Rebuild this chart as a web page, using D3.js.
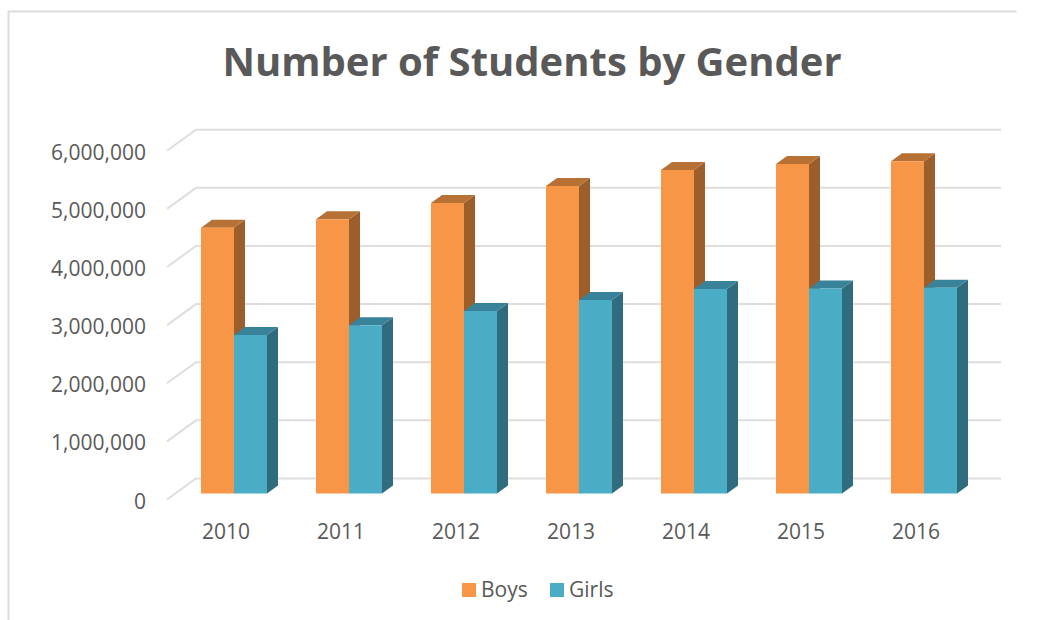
<!DOCTYPE html>
<html>
<head>
<meta charset="utf-8">
<script src="https://cdn.jsdelivr.net/npm/d3@7"></script>
<style>
  html, body { margin: 0; padding: 0; background: #fff; }
  svg { display: block; }
  text { font-family: "Open Sans", sans-serif; fill: #595959; }
</style>
</head>
<body>
<svg id="chart" width="1045" height="620"></svg>
<script>
var years = ['2010', '2011', '2012', '2013', '2014', '2015', '2016'];
var seriesNames = ['Boys', 'Girls'];
var boys = [4572000, 4717000, 4997000, 5290000, 5565000, 5668000, 5715000];
var girls = [2727000, 2893000, 3139000, 3329000, 3518000, 3527000, 3540000];
var yTicks = [0, 1000000, 2000000, 3000000, 4000000, 5000000, 6000000];

var svg = d3.select('#chart');
var depthX = 11, depthY = 8;                     // oblique shift of a bar's back face
var wallX = 29, wallY = 21;                      // oblique shift from the floor front to the wall

var colors = {
  Boys:  { front: '#f79646', top: '#b87135', side: '#9c5f2c' },
  Girls: { front: '#4bacc6', top: '#38829a', side: '#2f6d7e' }
};

// frame
svg.append('path')
  .attr('d', 'M8.5,620V11.5H1016.5')
  .attr('fill', 'none').attr('stroke', '#dcdcdc').attr('stroke-width', 2);

// scales, y is at the bars' front face
var y = d3.scaleLinear().domain([0, 6000000]).range([493.5, 144.7]);
var x = d3.scaleBand().domain(years).range([176.5, 981.5]);
var inner = d3.scaleBand().domain(seriesNames).range([0, 66]);
var barLeft = function(yr) { return x(yr) + (x.bandwidth() - inner.range()[1]) / 2 };

// gridlines with their floor-side stub
var gy = function(v) { return y(v) + 6 };
svg.append('g').selectAll('path').data(yTicks).join('path')
  .attr('d', function(v) {
    return 'M167,' + gy(v) + 'L' + (167 + wallX) + ',' + (gy(v) - wallY) + 'H1001';
  })
  .attr('fill', 'none').attr('stroke', '#dedede').attr('stroke-width', 2);

// y labels
svg.append('g').selectAll('text').data(yTicks).join('text')
  .attr('x', 146).attr('y', function(v) { return gy(v) + 9 })
  .attr('text-anchor', 'end').attr('font-size', 21)
  .text(d3.format(','));

// bars, girls after boys so their front covers the boys' side face
var rows = [];
seriesNames.forEach(function(s, si) {
  var vals = si === 0 ? boys : girls;
  years.forEach(function(yr, i) { rows.push({ s: s, yr: yr, v: vals[i] }) });
});
var bars = svg.append('g').selectAll('g').data(rows).join('g');
bars.append('path')   // side
  .attr('fill', function(d) { return colors[d.s].side })
  .attr('d', function(d) {
    var r = barLeft(d.yr) + inner(d.s) + inner.bandwidth(), t = y(d.v), b = y(0);
    return 'M' + r + ',' + t + 'l' + depthX + ',' + (-depthY) + 'V' + (b - depthY) + 'L' + r + ',' + b + 'Z';
  });
bars.append('path')   // top
  .attr('fill', function(d) { return colors[d.s].top })
  .attr('d', function(d) {
    var l = barLeft(d.yr) + inner(d.s), w = inner.bandwidth(), t = y(d.v);
    return 'M' + l + ',' + t + 'l' + depthX + ',' + (-depthY) + 'h' + w + 'l' + (-depthX) + ',' + depthY + 'Z';
  });
bars.append('rect')   // front
  .attr('fill', function(d) { return colors[d.s].front })
  .attr('x', function(d) { return barLeft(d.yr) + inner(d.s) })
  .attr('y', function(d) { return y(d.v) })
  .attr('width', inner.bandwidth())
  .attr('height', function(d) { return y(0) - y(d.v) });

// x labels
svg.append('g').selectAll('text').data(years).join('text')
  .attr('x', function(yr) { return x(yr) + x.bandwidth() / 2 - 8 })
  .attr('y', 539).attr('text-anchor', 'middle').attr('font-size', 21)
  .text(function(d) { return d });

// title
svg.append('text').attr('x', 532).attr('y', 76).attr('text-anchor', 'middle')
  .attr('font-size', 40).attr('font-weight', 700)
  .text('Number of Students by Gender');

// legend
var legendX = [462, 550];
var legend = svg.append('g').selectAll('g').data(seriesNames).join('g')
  .attr('transform', function(d, i) { return 'translate(' + legendX[i] + ',583)' });
legend.append('rect').attr('width', 14).attr('height', 14)
  .attr('fill', function(d) { return colors[d].front });
legend.append('text').attr('x', 19).attr('y', 14).attr('font-size', 21)
  .text(function(d) { return d });
</script>
</body>
</html>
